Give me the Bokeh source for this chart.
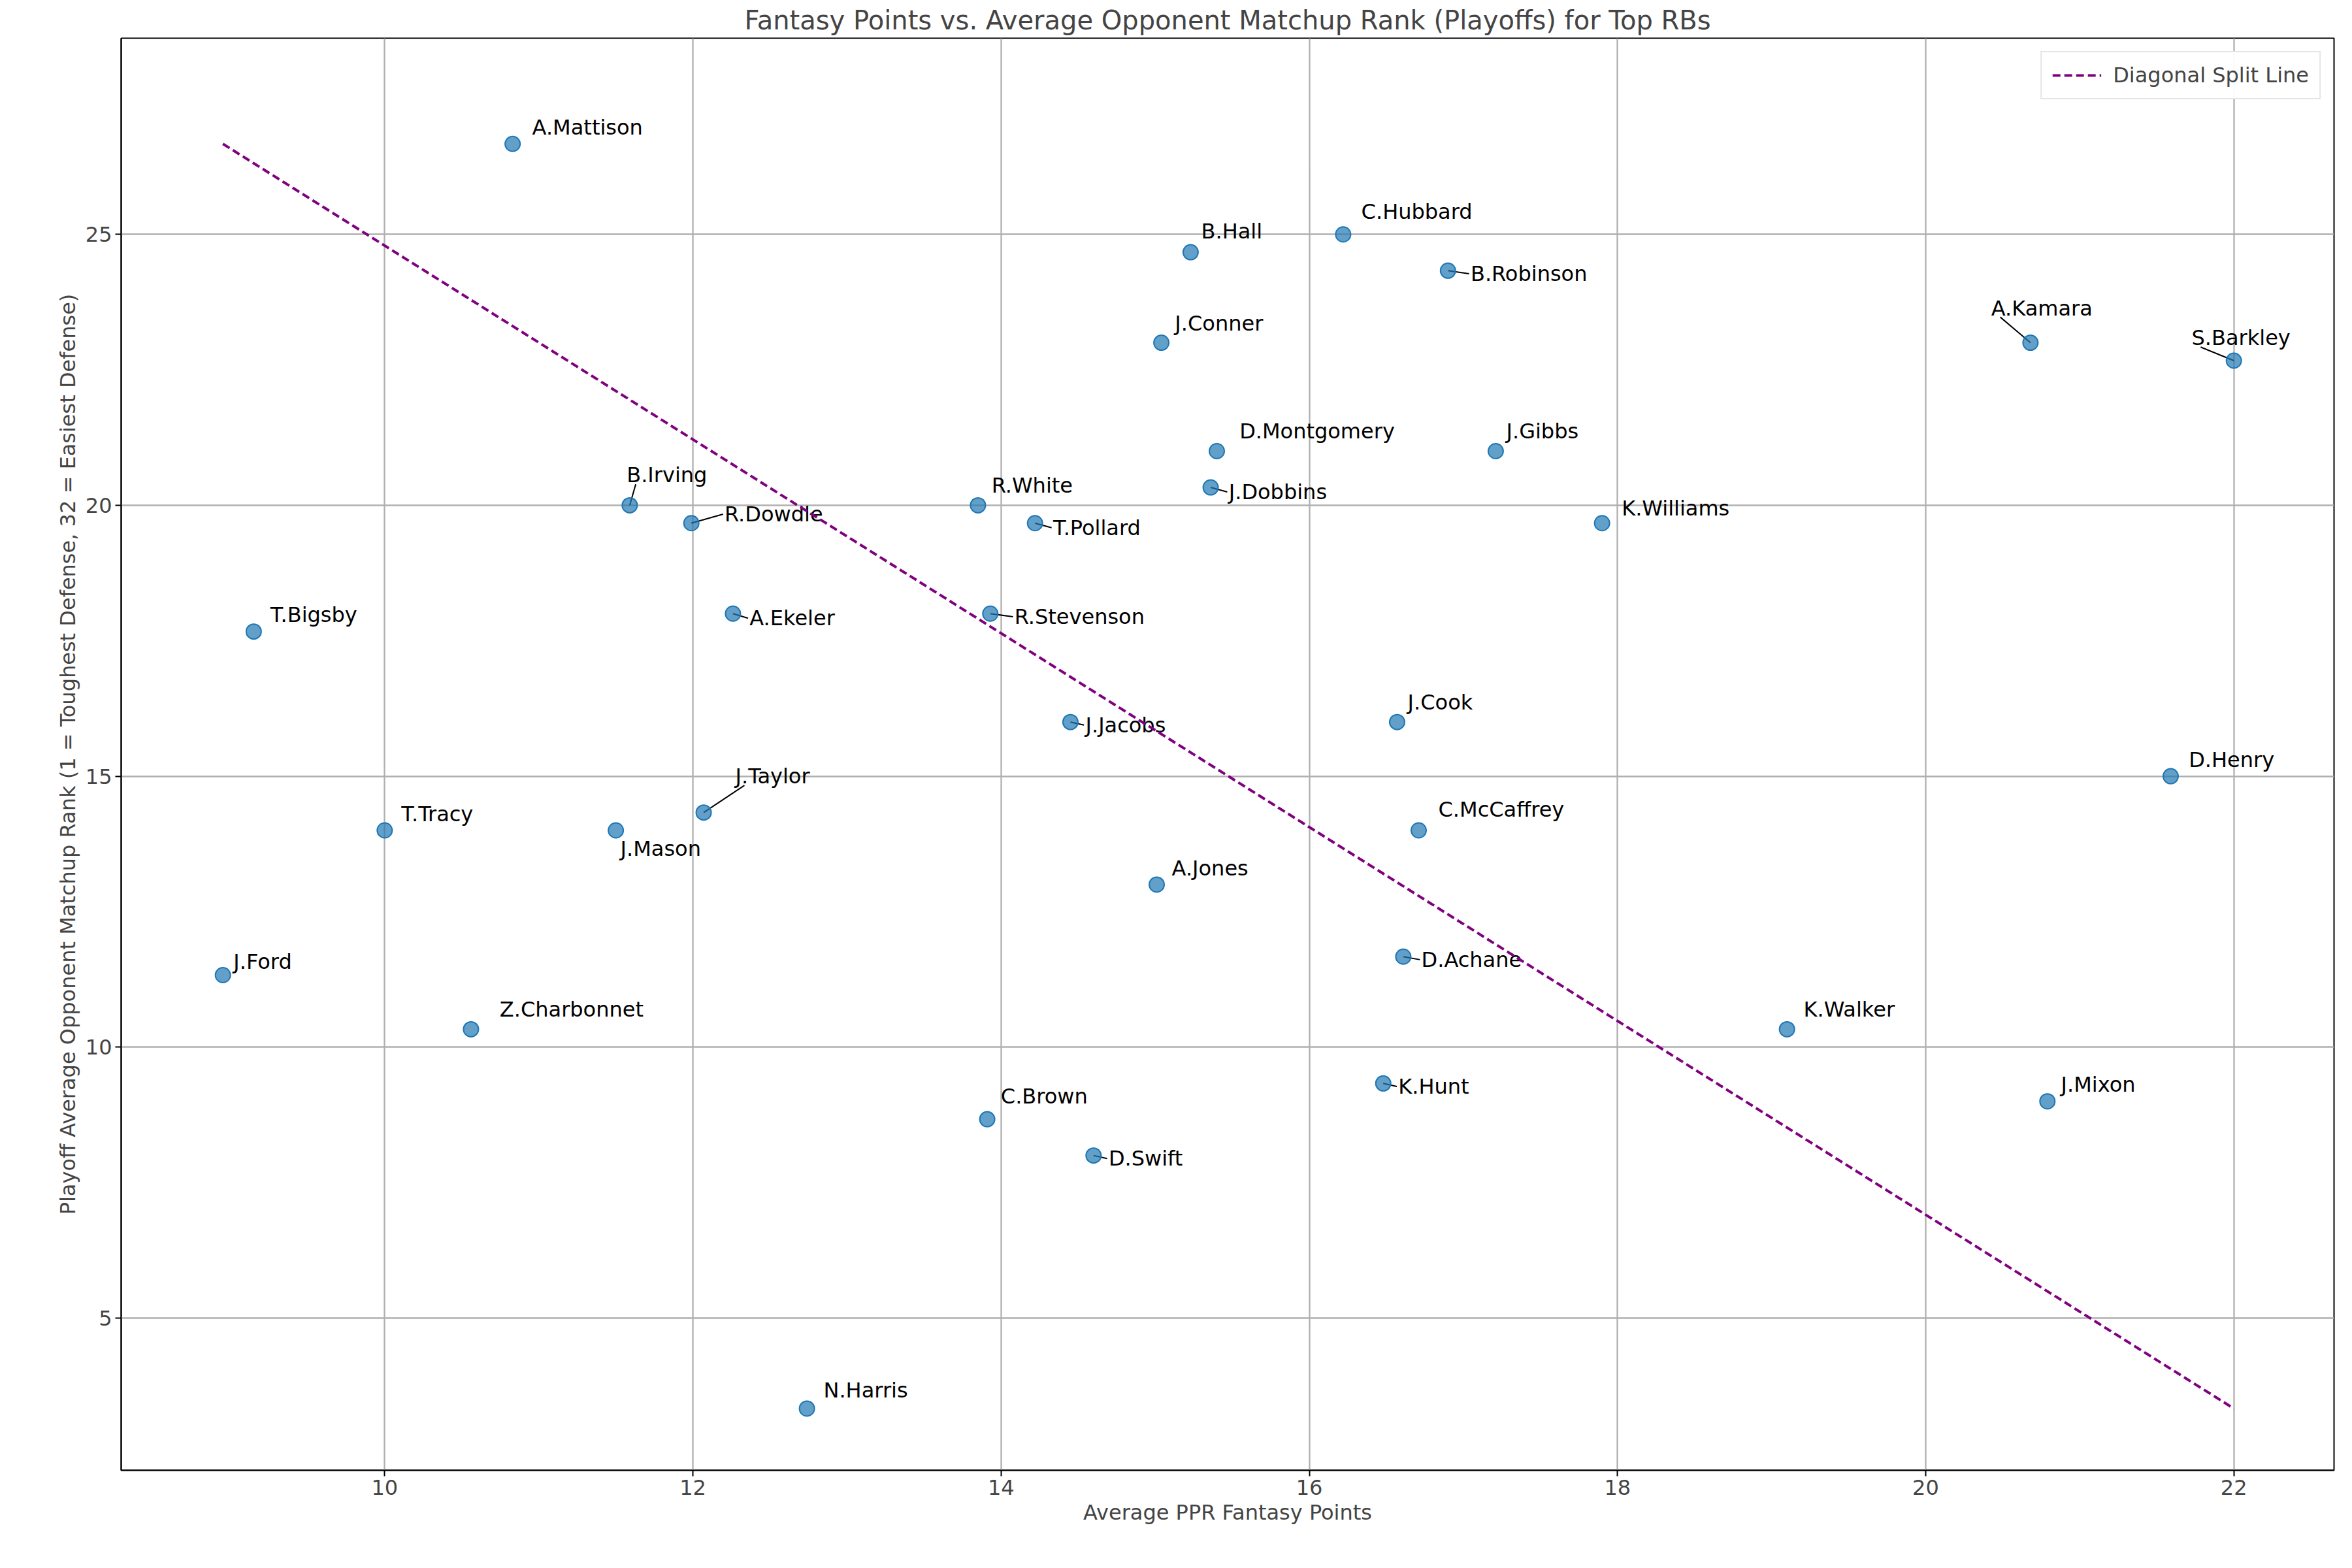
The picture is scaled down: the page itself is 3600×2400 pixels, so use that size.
from bokeh.plotting import figure
from bokeh.models import ColumnDataSource, FixedTicker, Legend, LegendItem
from bokeh.core.properties import value
from bokeh.embed import file_html
from bokeh.resources import INLINE

players = ["A.Mattison", "B.Hall", "C.Hubbard", "B.Robinson", "J.Conner", "A.Kamara", "S.Barkley",
           "D.Montgomery", "J.Gibbs", "J.Dobbins", "R.White", "B.Irving", "R.Dowdle", "T.Pollard",
           "K.Williams", "A.Ekeler", "R.Stevenson", "T.Bigsby", "J.Jacobs", "J.Cook", "D.Henry",
           "J.Taylor", "T.Tracy", "J.Mason", "C.McCaffrey", "A.Jones", "D.Achane", "J.Ford",
           "Z.Charbonnet", "K.Walker", "K.Hunt", "J.Mixon", "C.Brown", "D.Swift", "N.Harris"]
ppr = [10.83, 15.23, 16.22, 16.90, 15.04, 20.68, 22.0, 15.40, 17.21, 15.36, 13.85, 11.59, 11.99, 14.22,
       17.90, 12.26, 13.93, 9.15, 14.45, 16.57, 21.59, 12.07, 10.0, 11.50, 16.71, 15.01, 16.61, 8.95,
       10.56, 19.10, 16.48, 20.79, 13.91, 14.60, 12.74]
rank = [26.67, 24.67, 25.0, 24.33, 23.0, 23.0, 22.67, 21.0, 21.0, 20.33, 20.0, 20.0, 19.67, 19.67,
        19.67, 18.0, 18.0, 17.67, 16.0, 16.0, 15.0, 14.33, 14.0, 14.0, 14.0, 13.0, 11.67, 11.33,
        10.33, 10.33, 9.33, 9.0, 8.67, 8.0, 3.33]

split_x = [8.95, 22.0]
split_y = [26.67, 3.33]

# label placement: offset in reference-screen px (right, up) and whether a leader line is drawn
label_off = {
    "A.Mattison": (13, 11, 0), "B.Hall": (7, 14, 0), "C.Hubbard": (12, 15, 0), "B.Robinson": (15, -2, 1),
    "J.Conner": (9, 13, 0), "A.Kamara": (-26, 23, 1), "S.Barkley": (-28, 15, 1), "D.Montgomery": (15, 13, 0),
    "J.Gibbs": (7, 13, 0), "J.Dobbins": (12, -3, 1), "R.White": (9, 13, 0), "B.Irving": (-2, 20, 1),
    "R.Dowdle": (22, 6, 1), "T.Pollard": (12, -3, 1), "K.Williams": (13, 10, 0), "A.Ekeler": (11, -3, 1),
    "R.Stevenson": (16, -2, 1), "T.Bigsby": (11, 11, 0), "J.Jacobs": (10, -2, 1), "J.Cook": (7, 13, 0),
    "D.Henry": (12, 11, 0), "J.Taylor": (21, 24, 1), "T.Tracy": (11, 11, 0), "J.Mason": (3, -12, 0),
    "C.McCaffrey": (13, 14, 0), "A.Jones": (10, 11, 0), "D.Achane": (12, -2, 1), "J.Ford": (7, 9, 0),
    "Z.Charbonnet": (19, 13, 0), "K.Walker": (11, 13, 0), "K.Hunt": (10, -2, 1), "J.Mixon": (9, 11, 0),
    "C.Brown": (9, 15, 0), "D.Swift": (10, -2, 1), "N.Harris": (11, 12, 0),
}

PX_X = 102.1
PX_Y = 35.95

lx, ly, sx0, sy0, sx1, sy1 = [], [], [], [], [], []
for name, x, y in zip(players, ppr, rank):
    dx, dy, lead = label_off[name]
    tx = x + dx / PX_X
    ty = y + dy / PX_Y
    lx.append(tx)
    ly.append(ty)
    if lead:
        sx0.append(x)
        sy0.append(y)
        if dy > 8:
            sx1.append(tx + 6 / PX_X)
            sy1.append(ty - 6 / PX_Y)
        else:
            sx1.append(tx - 1 / PX_X)
            sy1.append(ty)

p = figure(frame_width=3387, frame_height=2192, output_backend="svg", toolbar_location=None,
           x_range=(8.29, 22.65), y_range=(2.19, 28.62),
           title="Fantasy Points vs. Average Opponent Matchup Rank (Playoffs) for Top RBs",
           min_border_left=185, min_border_right=12, min_border_top=0, min_border_bottom=150)
p.title.text_font = "DejaVu Sans"
p.title.text_font_size = "40px"
p.title.text_font_style = "normal"
p.title.align = "center"

for ax in (p.xaxis, p.yaxis):
    ax.axis_label_text_font = "DejaVu Sans"
    ax.axis_label_text_font_size = "32px"
    ax.axis_label_text_font_style = "normal"
    ax.major_label_text_font = "DejaVu Sans"
    ax.major_label_text_font_size = "32px"
    ax.minor_tick_line_color = None
    ax.major_tick_line_width = 2
    ax.major_tick_out = 9
    ax.major_tick_in = 0
    ax.axis_line_width = 2
p.xaxis.axis_label = "Average PPR Fantasy Points"
p.yaxis.axis_label = "Playoff Average Opponent Matchup Rank (1 = Toughest Defense, 32 = Easiest Defense)"
p.xaxis.ticker = FixedTicker(ticks=[10, 12, 14, 16, 18, 20, 22])
p.yaxis.ticker = FixedTicker(ticks=[5, 10, 15, 20, 25])
p.grid.grid_line_color = "#b0b0b0"
p.grid.grid_line_width = 2.3
p.outline_line_color = "black"
p.outline_line_width = 2

p.segment(sx0, sy0, sx1, sy1, line_color="black", line_width=2)

src = ColumnDataSource(dict(x=ppr, y=rank, lx=lx, ly=ly, name=players))
p.scatter("x", "y", source=src, size=23, fill_color="#1f77b4", fill_alpha=0.7,
          line_color="#1f77b4", line_width=2)
p.text("lx", "ly", text="name", source=src, text_font=value("DejaVu Sans"), text_font_size="32px",
       text_baseline="middle", text_align="left", text_color="black")

ln = p.line(split_x, split_y, line_color="purple", line_dash="12 6", line_width=4)
legend = Legend(items=[LegendItem(label="Diagonal Split Line", renderers=[ln])], location="top_right")
legend.label_text_font = "DejaVu Sans"
legend.label_text_font_size = "32px"
legend.glyph_width = 75
legend.label_standoff = 18
legend.padding = 16
legend.border_line_color = "#cccccc"
legend.border_line_width = 2
legend.margin = 20
p.add_layout(legend)

open("out.html", "w").write(file_html(p, INLINE))
